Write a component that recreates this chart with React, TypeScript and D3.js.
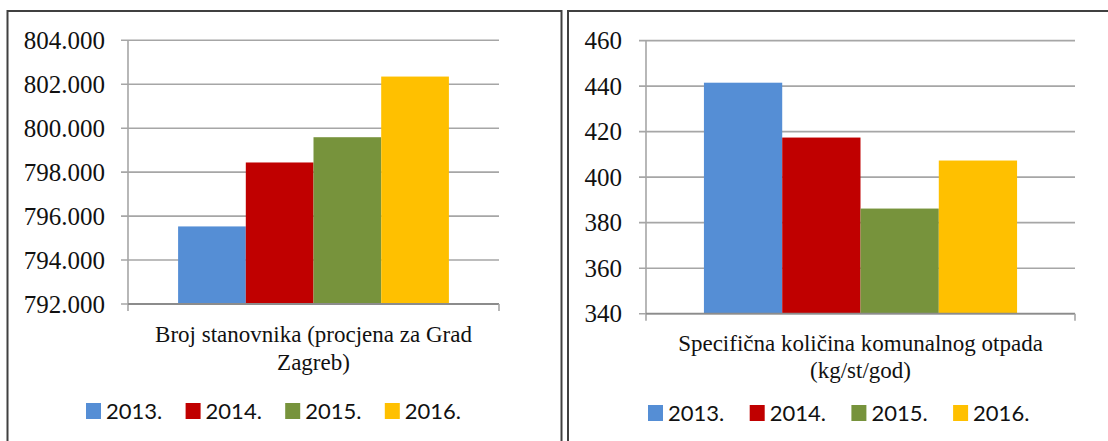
import React from "react";
import * as d3 from "d3";

const years = ["2013.", "2014.", "2015.", "2016."];
const colors = ["#558ED5", "#C00000", "#77933C", "#FFC000"];

const popCategory = "Broj stanovnika (procjena za Grad Zagreb)";
const popLabelLines = ["Broj stanovnika (procjena za Grad", "Zagreb)"];
const popValues = [795530, 798440, 799590, 802350];
const popTicks = [792000, 794000, 796000, 798000, 800000, 802000, 804000];

const wasteCategory = "Specifična količina komunalnog otpada (kg/st/god)";
const wasteLabelLines = ["Specifična količina komunalnog otpada", "(kg/st/god)"];
const wasteValues = [441.5, 417.4, 386.2, 407.3];
const wasteTicks = [340, 360, 380, 400, 420, 440, 460];

const hrLocale = d3.formatLocale({ decimal: ",", thousands: ".", grouping: [3], currency: ["", ""] });
const popFmt = hrLocale.format(",");
const wasteFmt = d3.format("d");

const serif = "'Liberation Serif', 'Times New Roman', serif";

type PanelProps = {
  category: string;
  labelLines: string[];
  values: number[];
  ticks: number[];
  fmt: (n: number) => string;
  x0: number;
  x1: number;
  yTop: number;
  yBottom: number;
  labelRight: number;
  catBaseline: number;
  catLineH: number;
  legendX: number;
  legendStep: number;
  legendBaseline: number;
};

function Panel(p: PanelProps) {
  const y = d3.scaleLinear().domain([p.ticks[0], p.ticks[p.ticks.length - 1]]).range([p.yBottom, p.yTop]);
  const xc = d3.scaleBand().domain([p.category]).range([p.x0, p.x1]).paddingInner(0).paddingOuter(0.185);
  const xs = d3.scaleBand().domain(years).range([0, xc.bandwidth()]).padding(0);
  const cx = (p.x0 + p.x1) / 2;
  const grid = "#A6A6A6";
  return (
    <g>
      {p.ticks.map((t) => (
        <g key={t}>
          <line x1={p.x0 - 7} x2={p.x1} y1={y(t)} y2={y(t)} stroke={grid} strokeWidth={1.6} />
          <text x={p.labelRight} y={y(t)} dy="0.35em" textAnchor="end" fontFamily={serif} fontSize={25} fill="#111">
            {p.fmt(t)}
          </text>
        </g>
      ))}
      {years.map((yr, i) => (
        <rect key={yr} x={(xc(p.category) as number) + (xs(yr) as number)} width={xs.bandwidth()} y={y(p.values[i])} height={y(p.ticks[0]) - y(p.values[i])} fill={colors[i]} />
      ))}
      <line x1={p.x0} x2={p.x0} y1={p.yTop} y2={p.yBottom + 7} stroke={grid} strokeWidth={1.6} />
      <line x1={p.x0} x2={p.x1} y1={p.yBottom} y2={p.yBottom} stroke="#8C8C8C" strokeWidth={1.8} />
      <line x1={p.x1} x2={p.x1} y1={p.yBottom} y2={p.yBottom + 7} stroke={grid} strokeWidth={1.6} />
      {p.labelLines.map((l, i) => (
        <text key={i} x={cx} y={p.catBaseline + i * p.catLineH} textAnchor="middle" fontFamily={serif} fontSize={23} fill="#111">
          {l}
        </text>
      ))}
      {years.map((yr, i) => (
        <g key={yr} transform={`translate(${p.legendX + i * p.legendStep},0)`}>
          <rect x={0} y={p.legendBaseline - 16} width={15} height={16} fill={colors[i]} />
          <text x={20} y={p.legendBaseline} fontFamily="Lato, sans-serif" fontSize={22} fill="#111">
            {yr}
          </text>
        </g>
      ))}
    </g>
  );
}

export default function App() {
  return (
    <svg width={1108} height={441} style={{ position: "absolute", left: 0, top: 0, background: "#fff" }}>
      <rect x={0} y={0} width={1108} height={441} fill="#fff" />
      <rect x={7.5} y={11} width={554} height={450} fill="none" stroke="#404040" strokeWidth={2} />
      <rect x={568} y={11} width={560} height={450} fill="none" stroke="#404040" strokeWidth={2} />
      <Panel
        category={popCategory}
        labelLines={popLabelLines}
        values={popValues}
        ticks={popTicks}
        fmt={popFmt}
        x0={128}
        x1={499}
        yTop={40.3}
        yBottom={304}
        labelRight={105}
        catBaseline={342}
        catLineH={28}
        legendX={86}
        legendStep={99.6}
        legendBaseline={419}
      />
      <Panel
        category={wasteCategory}
        labelLines={wasteLabelLines}
        values={wasteValues}
        ticks={wasteTicks}
        fmt={wasteFmt}
        x0={646}
        x1={1075}
        yTop={40.6}
        yBottom={313.7}
        labelRight={622}
        catBaseline={351}
        catLineH={27}
        legendX={648}
        legendStep={101.7}
        legendBaseline={421}
      />
    </svg>
  );
}
